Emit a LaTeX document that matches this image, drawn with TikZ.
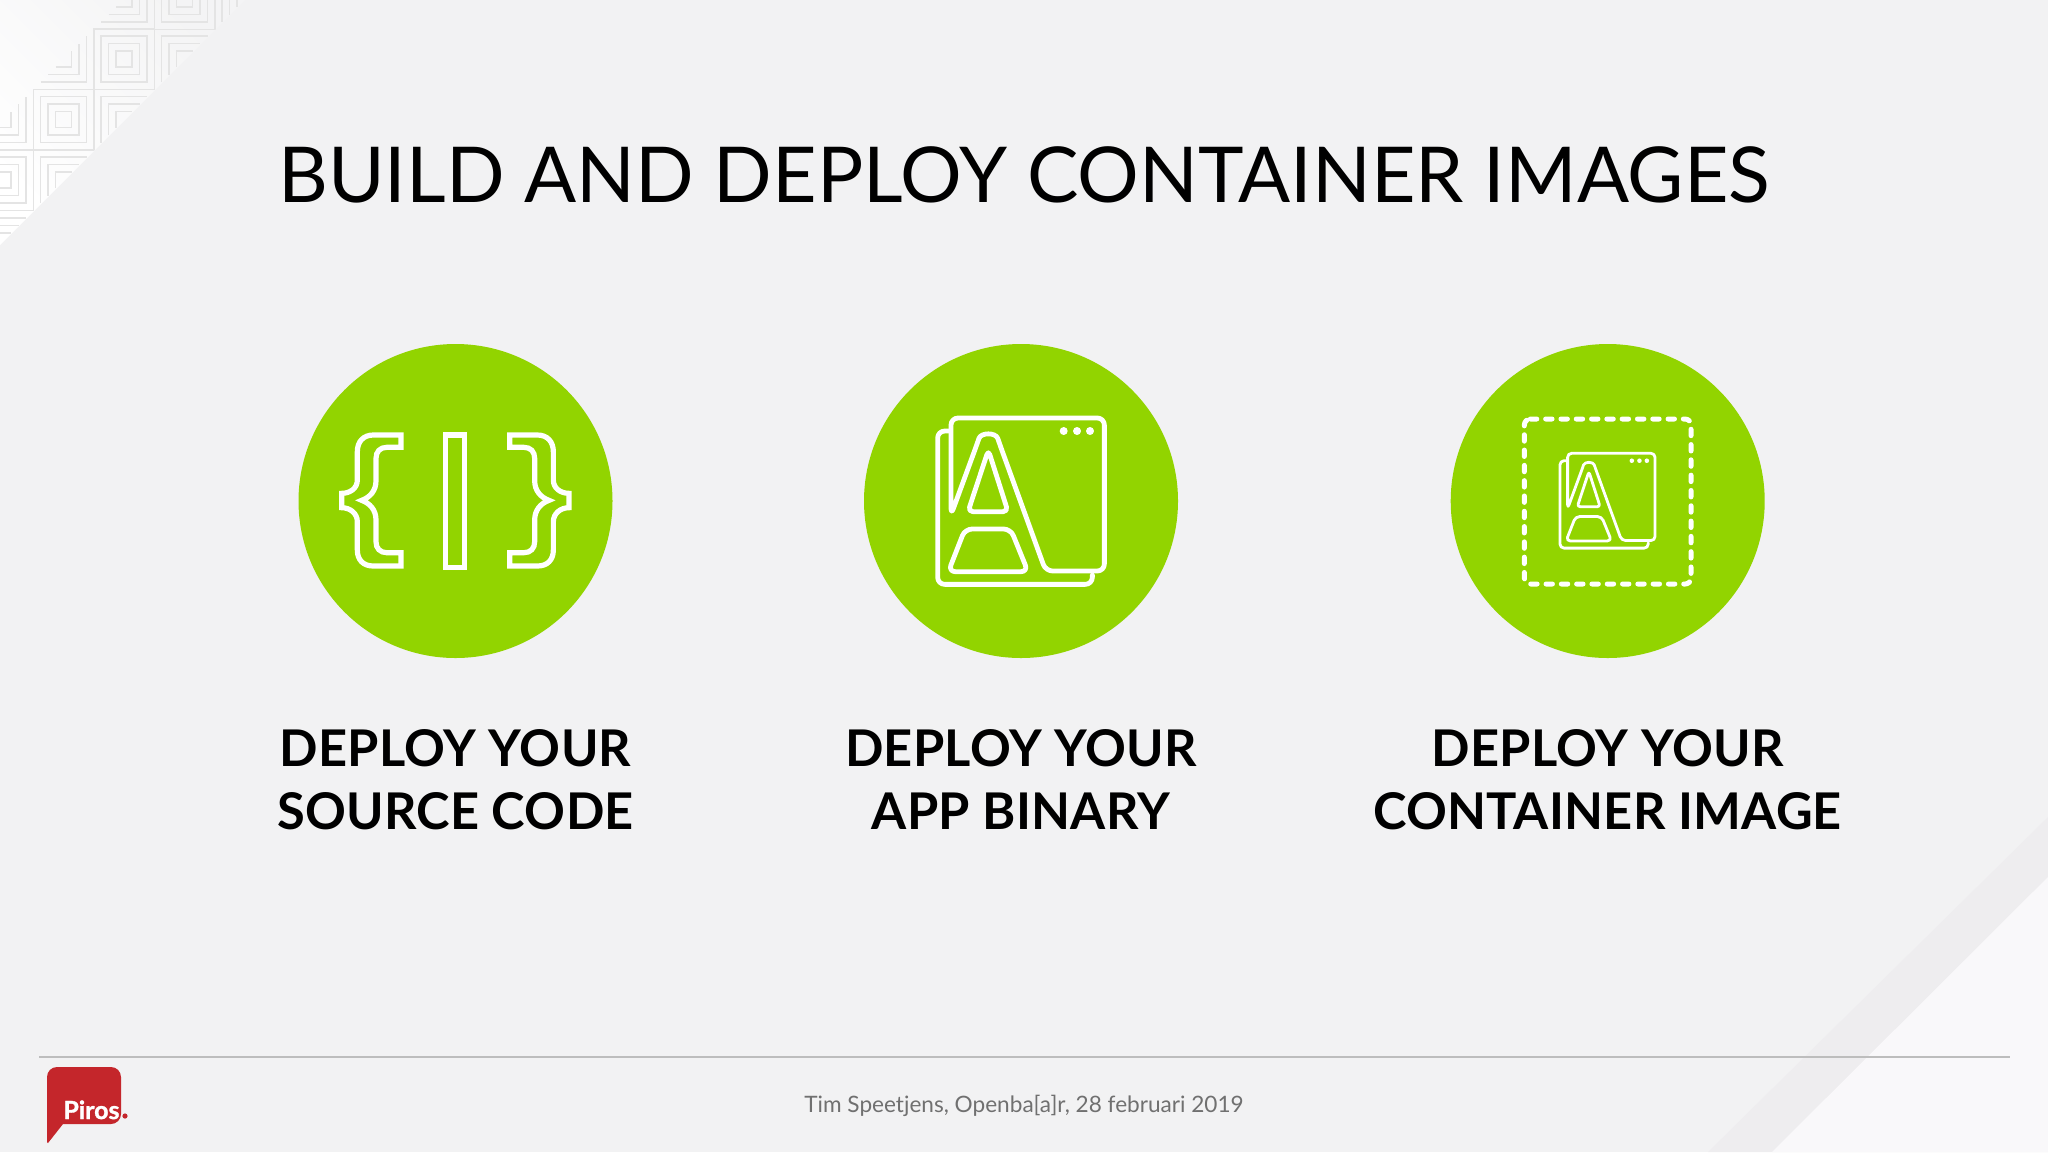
\documentclass[tikz,border=0pt]{standalone}
\usepackage{fontspec}
\setmainfont{Lato}
\newfontfamily\titlefont{Lato}
\newfontfamily\labelfont[LetterSpace=0.5]{Lato Bold}
\newfontfamily\logofont[FakeBold=1.2]{Lato Bold}
\definecolor{bgc}{HTML}{F2F2F3}
\definecolor{bandc}{HTML}{EEEDEF}
\definecolor{lightc}{HTML}{F9F8FA}
\definecolor{patc}{HTML}{E4E4E4}
\definecolor{greenc}{HTML}{92D400}
\definecolor{redc}{HTML}{C4262B}
\definecolor{rulec}{HTML}{BDBDBD}
\definecolor{footc}{HTML}{707070}
\tikzset{
  disc/.style={fill=greenc,draw=none},
  iconline/.style={draw=white,line join=round,line cap=round},
  patline/.style={draw=patc,line width=0.75pt},
  caption/.style={align=center,inner sep=0pt,text=black,font=\labelfont\fontsize{25.3}{31.5}\selectfont},
}
\newcommand{\appicon}[2]{%
  \draw[iconline,line width=#1,rounded corners=#2] (296,303) -- (263,303) -- (263,763) -- (727,763) -- (727,735);
  \draw[iconline,line width=#1,rounded corners=#2] (303,555) -- (303,264) -- (763,264) -- (763,723) -- (587,723) -- (450,345) .. controls (437,307) and (393,307) .. (380,345) -- cycle;
  \draw[iconline,line width=#1,rounded corners=#2*0.7] (415,360) -- (474,545) -- (354,545) -- cycle;
  \draw[iconline,line width=#1,rounded corners=#2] (345,597) -- (482,597) -- (534,725) -- (295,725) -- cycle;
  \fill[white] (641,303) circle[radius=12] (681,303) circle[radius=12] (720,303) circle[radius=12];
}
\newcommand{\fulltile}[2]{%
  \foreach \h in {30.25,23,15.5,8} \draw[patline] (#1-\h,#2-\h) rectangle (#1+\h,#2+\h);
}
\newcommand{\brtile}[2]{%
  \foreach \h in {23,15.5,8} \draw[patline] (#1-\h,#2+\h) -- (#1+\h,#2+\h) -- (#1+\h,#2-\h);
}
\newcommand{\tltile}[2]{%
  \foreach \h in {23,15.5,8} \draw[patline] (#1-\h,#2+\h) -- (#1-\h,#2-\h) -- (#1+\h,#2-\h);
}
\begin{document}
\begin{tikzpicture}[x=0.5pt,y=-0.5pt]
\useasboundingbox (0,0) rectangle (2048,1152);
\fill[bgc] (0,0) rectangle (2048,1152);
% lower right
\fill[bandc] (1708,1152) -- (2048,817) -- (2048,1152) -- cycle;
\fill[lightc] (1772,1152) -- (2048,877) -- (2048,1152) -- cycle;
% upper left
\begin{scope}
  \clip (0,0) -- (245,0) -- (0,245) -- cycle;
  \shade[shading=axis,left color=white,right color=bgc!85!white,shading angle=135] (0,0) rectangle (245,245);
  \fulltile{3}{180}\fulltile{63.5}{119.5}\fulltile{124}{59}\fulltile{184.5}{-1}
  \brtile{3}{119.5}\brtile{63.5}{59}\brtile{124}{-1}
  \tltile{3}{241}\tltile{63.5}{180}\tltile{124}{119.5}\tltile{184.5}{59}\tltile{245}{-1}
\end{scope}
% title
\node[anchor=base,inner sep=0pt,text=black,font=\titlefont\fontsize{38.55}{46}\selectfont] (title) at (1024,202) {BUILD AND DEPLOY CONTAINER IMAGES};
% discs
\path[disc] (455.5,501) circle[radius=157];
\path[disc] (1021,501) circle[radius=157];
\path[disc] (1607.7,501) circle[radius=157];
% icon 1
\begin{scope}[shift={(280,330)},x=0.16667pt,y=-0.16667pt]
  \draw[iconline,line width=2.6pt,line cap=butt,line join=miter,rounded corners=0pt] (363,315) -- (280,315) .. controls (250,315) and (232,335) .. (232,365) -- (232,450) .. controls (232,475) and (210,490) .. (185,490) -- (185,533) .. controls (210,533) and (232,550) .. (232,575) -- (232,660) .. controls (232,690) and (250,708) .. (280,708) -- (363,708) -- (363,668) -- (320,668) .. controls (300,668) and (288,655) .. (288,635) -- (288,570) .. controls (288,540) and (270,520) .. (245,511) .. controls (270,502) and (288,482) .. (288,452) -- (288,385) .. controls (288,365) and (300,352) .. (320,352) -- (363,352) -- cycle;
  \draw[iconline,line width=2.6pt,line cap=butt,line join=miter] (689,315) -- (772,315) .. controls (802,315) and (820,335) .. (820,365) -- (820,450) .. controls (820,475) and (842,490) .. (867,490) -- (867,533) .. controls (842,533) and (820,550) .. (820,575) -- (820,660) .. controls (820,690) and (802,708) .. (772,708) -- (689,708) -- (689,668) -- (732,668) .. controls (752,668) and (764,655) .. (764,635) -- (764,570) .. controls (764,540) and (782,520) .. (807,511) .. controls (782,502) and (764,482) .. (764,452) -- (764,385) .. controls (764,365) and (752,352) .. (732,352) -- (689,352) -- cycle;
  \draw[iconline,line width=2.6pt,line join=miter] (497,315) rectangle (554,712);
\end{scope}
% icon 2
\begin{scope}[shift={(850,330)},x=0.16667pt,y=-0.16667pt]
  \appicon{2.4pt}{3.5pt}
\end{scope}
% icon 3
\begin{scope}[shift={(1440,330)},x=0.16667pt,y=-0.16667pt]
  \draw[iconline,line width=2.5pt,line cap=round,rounded corners=3pt,dash pattern=on 3.2pt off 4.45pt] (253,267) -- (753,267) -- (753,762) -- (253,762) -- cycle;
\end{scope}
\begin{scope}[shift={(1510.03,403.14)},x=0.095pt,y=-0.095pt]
  \appicon{1.4pt}{2pt}
\end{scope}
% captions
\node[caption] (capa) at (455.5,779.5) {DEPLOY YOUR\\SOURCE CODE};
\node[caption] (capb) at (1021,779.5) {DEPLOY YOUR\\APP BINARY};
\node[caption] (capc) at (1607.7,779.5) {DEPLOY YOUR\\CONTAINER IMAGE};
% footer
\draw[rulec,line width=0.6pt] (39,1057) -- (2010,1057);
\node[anchor=base,inner sep=0pt,text=footc,font=\fontsize{11.3}{14}\selectfont] (foot) at (1024,1112.5) {Tim Speetjens, Openba[a]r, 28 februari 2019};
% logo
\fill[redc,rounded corners=5pt] (47,1090) -- (47,1067) -- (121,1067) -- (121,1124) [sharp corners] -- (63,1124) -- (48,1143) -- (47,1142) -- cycle;
\node[anchor=base west,inner sep=0pt,text=white,font=\logofont\fontsize{12.5}{14}\selectfont] (logo) at (63,1119) {Piros};
\fill[redc] (125,1116) circle[radius=2.6];
\end{tikzpicture}
\end{document}
